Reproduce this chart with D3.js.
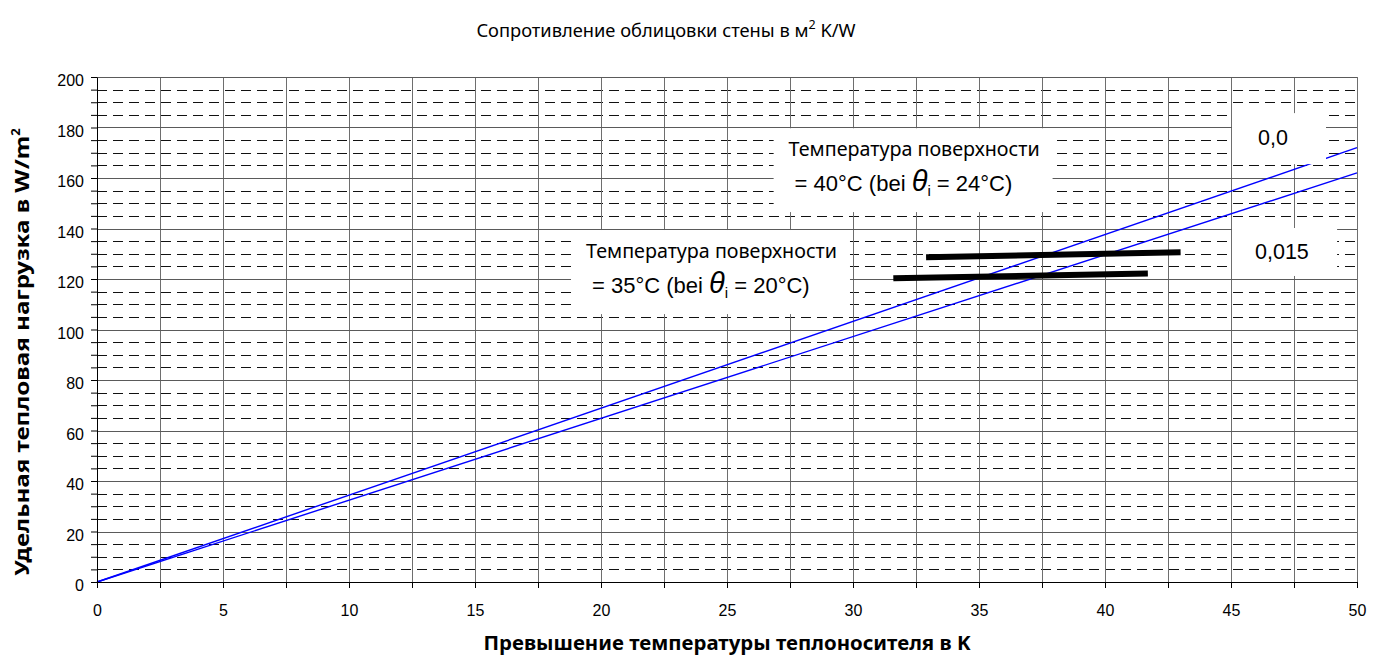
<!DOCTYPE html>
<html>
<head>
<meta charset="utf-8">
<script src="https://cdn.jsdelivr.net/npm/d3@7"></script>
<style>
  body { margin: 0; background: #fff; }
  svg { display: block; }
</style>
</head>
<body>
<svg id="chart" width="1384" height="657"></svg>
<script>
// Excess heating-medium temperature (K) at which each curve is sampled
const excessTemp = [0, 50];
// Wall covering resistance, m² K/W
const resistanceLabels = ["0,0", "0,015"];
// Specific heat load, W/m²
const loadR000 = [0, 172];
const loadR015 = [0, 162];
// Surface temperature limit lines (x in K, y in W/m²)
const limit40x = [32.9, 43.0];
const limit40y = [128.6, 130.6];
const limit35x = [31.6, 41.7];
const limit35y = [120.3, 122.2];
// Tick labels
const xTickLabels = [0, 5, 10, 15, 20, 25, 30, 35, 40, 45, 50];
const yTickLabels = [0, 20, 40, 60, 80, 100, 120, 140, 160, 180, 200];

const svg = d3.select("#chart");
const x = d3.scaleLinear().domain([0, 50]).range([97, 1357]);
const y = d3.scaleLinear().domain([0, 200]).range([582, 77]);

const sans = "'Liberation Sans', Arial, sans-serif";
const geo = "'Noto Sans', 'DejaVu Sans', sans-serif";

// ---- grid ----
const grid = svg.append("g");
const minorY = d3.range(5, 200, 5).filter(v => v % 20 !== 0);
grid.selectAll("line.dash").data(minorY).join("line")
  .attr("x1", x(0)).attr("x2", x(50))
  .attr("y1", d => Math.round(y(d)) + 0.5).attr("y2", d => Math.round(y(d)) + 0.5)
  .attr("stroke", "#111").attr("stroke-width", 1)
  .attr("stroke-dasharray", "10,6");
grid.selectAll("line.vx").data(d3.range(2.5, 50.01, 2.5)).join("line")
  .attr("x1", d => Math.round(x(d)) + 0.5).attr("x2", d => Math.round(x(d)) + 0.5)
  .attr("y1", y(0)).attr("y2", y(200))
  .attr("stroke", "#6e6e6e").attr("stroke-width", 1);
grid.selectAll("line.hy").data(yTickLabels.filter(v => v > 0)).join("line")
  .attr("x1", x(0)).attr("x2", x(50))
  .attr("y1", d => Math.round(y(d)) + 0.5).attr("y2", d => Math.round(y(d)) + 0.5)
  .attr("stroke", "#5a5a5a").attr("stroke-width", 1);

// ---- curves ----
const line = d3.line().x(d => x(d[0])).y(d => y(d[1]));
[loadR000, loadR015].forEach(vals => {
  svg.append("path")
    .datum(excessTemp.map((t, i) => [t, vals[i]]))
    .attr("d", line)
    .attr("fill", "none")
    .attr("stroke", "#0000ff")
    .attr("stroke-width", 1.4);
});

// ---- annotation boxes ----
function box(x0, x1, y0, y1) {
  svg.append("rect")
    .attr("x", x(x0)).attr("y", y(y1))
    .attr("width", x(x1) - x(x0)).attr("height", y(y0) - y(y1))
    .attr("fill", "#fff");
  return { left: x(x0), top: y(y1) };
}

function tempNote(b, surface, inner) {
  svg.append("text")
    .attr("x", b.left + 15).attr("y", b.top + 28)
    .attr("font-family", geo).attr("font-size", 19.5)
    .attr("textLength", 251).attr("lengthAdjust", "spacingAndGlyphs")
    .text("Температура поверхности");
  const t = svg.append("text")
    .attr("x", b.left + 21).attr("y", b.top + 63)
    .attr("font-family", sans).attr("font-size", 22);
  t.append("tspan").text("= " + surface + "°C (bei ");
  t.append("tspan").attr("font-size", 29).attr("font-style", "italic").text("θ");
  t.append("tspan").attr("font-size", 15).attr("dy", 5).text("i");
  t.append("tspan").attr("dy", -5).text(" = " + inner + "°C)");
}

tempNote(box(26.85, 37.92, 146.5, 179.7), 40, 24);
tempNote(box(18.81, 29.88, 106.1, 139.4), 35, 20);

const b0 = box(45.04, 48.77, 165.5, 185.7);
svg.append("text").attr("x", b0.left + 26).attr("y", b0.top + 32)
  .attr("font-family", sans).attr("font-size", 21.5).text(resistanceLabels[0]);
const b1 = box(45.04, 49.21, 121.2, 140.2);
svg.append("text").attr("x", b1.left + 23).attr("y", b1.top + 31)
  .attr("font-family", sans).attr("font-size", 21.5).text(resistanceLabels[1]);

// ---- surface temperature limits ----
[[limit40x, limit40y], [limit35x, limit35y]].forEach(([lx, ly]) => {
  svg.append("path")
    .datum(lx.map((v, i) => [v, ly[i]]))
    .attr("d", line)
    .attr("fill", "none")
    .attr("stroke", "#000")
    .attr("stroke-width", 6);
});

// ---- axes ----
const xAxis = d3.axisBottom(x)
  .tickValues(d3.range(0, 50.01, 2.5))
  .tickFormat(d => xTickLabels.includes(d) ? d : "")
  .tickSize(6).tickSizeOuter(0).tickPadding(17);
const gx = svg.append("g").attr("transform", `translate(0,${y(0)})`).call(xAxis);

const yAxis = d3.axisLeft(y)
  .tickValues(d3.range(0, 200.01, 5))
  .tickFormat(d => yTickLabels.includes(d) ? d : "")
  .tickSize(6).tickSizeOuter(0).tickPadding(7);
const gy = svg.append("g").attr("transform", `translate(${x(0)},0)`).call(yAxis);

[gx, gy].forEach(g => {
  g.selectAll("text").attr("font-family", sans).attr("font-size", 16).attr("fill", "#000");
  g.selectAll("line, path").attr("stroke", "#000");
});
gx.select(".domain").attr("stroke-width", 1.2);
gy.selectAll("text").attr("dy", "0.55em");

// ---- titles ----
const title = svg.append("text")
  .attr("x", 666).attr("y", 37).attr("text-anchor", "middle")
  .attr("font-family", geo).attr("font-size", 18.3);
title.append("tspan").text("Сопротивление облицовки стены в м");
title.append("tspan").attr("font-size", 12.5).attr("dy", -8).text("2");
title.append("tspan").attr("dy", 8).text(" K/W");

svg.append("text")
  .attr("x", 727).attr("y", 650).attr("text-anchor", "middle")
  .attr("font-family", geo).attr("font-size", 20).attr("font-weight", "bold")
  .attr("textLength", 487).attr("lengthAdjust", "spacingAndGlyphs")
  .text("Превышение температуры теплоносителя в K");

const yt = svg.append("text")
  .attr("transform", "translate(29,352) rotate(-90)")
  .attr("text-anchor", "middle")
  .attr("font-family", geo).attr("font-size", 20).attr("font-weight", "bold");
yt.append("tspan").attr("textLength", 440).attr("lengthAdjust", "spacingAndGlyphs")
  .text("Удельная тепловая нагрузка в W/m");
yt.append("tspan").attr("font-size", 13).attr("dy", -9).text("2");
</script>
</body>
</html>
